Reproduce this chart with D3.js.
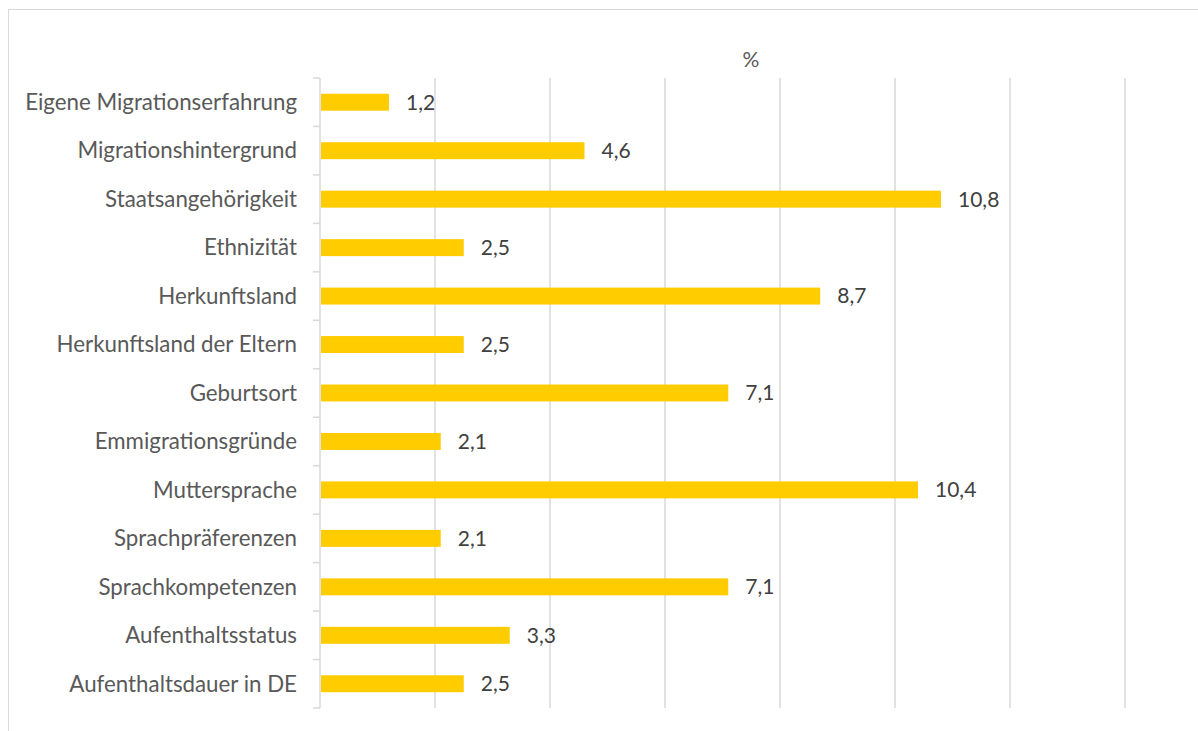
<!DOCTYPE html>
<html><head><meta charset="utf-8">
<script src="https://cdn.jsdelivr.net/npm/d3@7"></script>
<style>body{margin:0;background:#fff}text{font-family:"Lato",sans-serif}</style>
</head><body><svg id="c" width="1198" height="731"></svg>
<script>
const categories = ["Eigene Migrationserfahrung","Migrationshintergrund","Staatsangehörigkeit","Ethnizität","Herkunftsland","Herkunftsland der Eltern","Geburtsort","Emmigrationsgründe","Muttersprache","Sprachpräferenzen","Sprachkompetenzen","Aufenthaltsstatus","Aufenthaltsdauer in DE"];
const values = [1.2,4.6,10.8,2.5,8.7,2.5,7.1,2.1,10.4,2.1,7.1,3.3,2.5];
const xTicks = [0,2,4,6,8,10,12,14];
const axisTitle = "%";

const svg = d3.select("#c");
svg.append("rect").attr("x",8.5).attr("y",9.5).attr("width",1200).attr("height",740)
  .attr("fill","none").attr("stroke","#d9d9d9");
const x = d3.scaleLinear().domain([0,14]).range([320,1125]);
const y = d3.scaleBand().domain(categories).range([78,708]).paddingInner(0.65).paddingOuter(0.325);
const yb = d3.scaleBand().domain(categories).range([78,708]);

svg.append("g").selectAll("line").data(xTicks.slice(1)).join("line")
  .attr("x1",d=>x(d)).attr("x2",d=>x(d)).attr("y1",78).attr("y2",708)
  .attr("stroke","#d9d9d9").attr("stroke-width",1.5);
svg.append("line").attr("x1",320).attr("x2",320).attr("y1",78).attr("y2",708).attr("stroke","#d9d9d9").attr("stroke-width",1.5);
const bounds = categories.map(c=>yb(c)).concat([708]);
svg.append("g").selectAll("line").data(bounds).join("line")
  .attr("x1",313).attr("x2",320).attr("y1",d=>d).attr("y2",d=>d).attr("stroke","#d9d9d9").attr("stroke-width",1.5);

svg.append("g").selectAll("rect").data(values).join("rect")
  .attr("x",x(0)+1).attr("y",(d,i)=>y(categories[i]))
  .attr("width",d=>x(d)-x(0)-1).attr("height",y.bandwidth())
  .attr("fill","#FFCC00");

svg.append("g").selectAll("text").data(values).join("text")
  .attr("x",d=>x(d)+17).attr("y",(d,i)=>yb(categories[i])+yb.bandwidth()/2)
  .attr("dy","0.35em").attr("font-size",21).attr("fill","#404040")
  .text(d=>d.toFixed(1).replace(".",","));

svg.append("g").selectAll("text").data(categories).join("text")
  .attr("x",297).attr("y",d=>yb(d)+yb.bandwidth()/2).attr("dy","0.35em")
  .attr("text-anchor","end").attr("font-size",22.3).attr("fill","#595959").text(d=>d);

svg.append("text").attr("x",751).attr("y",60).attr("dy","0.35em").attr("text-anchor","middle")
  .attr("font-size",21).attr("fill","#595959").text(axisTitle);
</script></body></html>
